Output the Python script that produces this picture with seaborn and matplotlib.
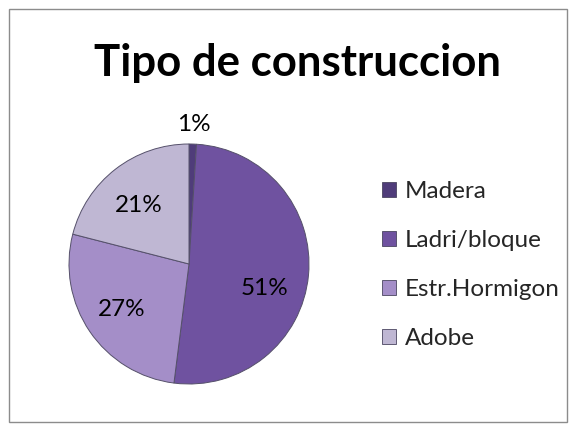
import numpy as np
import matplotlib
matplotlib.use("Agg")
import matplotlib.pyplot as plt
import seaborn as sns
from matplotlib.patches import Rectangle, Patch

# ================= 数据 =================
categories = ["Madera", "Ladri/bloque", "Estr.Hormigon", "Adobe"]
values = [1, 51, 27, 21]
pct_labels = ["1%", "51%", "27%", "21%"]
colors = ["#4f3c7a", "#6f52a0", "#a48ec8", "#bfb7d3"]
title = "Tipo de construccion"
# ========================================

sns.set_theme(style="white")
plt.rcParams['font.family'] = ['Lato', 'DejaVu Sans']

W, H = 569, 424
fig = plt.figure(figsize=(W / 100, H / 100), dpi=100)
fig.patch.set_facecolor("white")

# borde del gráfico (en píxeles)
fig.add_artist(Rectangle((9 / W, 2 / H), 558 / W, 413 / H, transform=fig.transFigure,
                         fill=False, edgecolor="#8c8c8c", linewidth=1.0))

# pastel: centro (189, 264) px, radio 120 px
ax = fig.add_axes([69 / W, (H - 264 - 120) / H, 240 / W, 240 / H])
wedges, _ = ax.pie(values, colors=colors, startangle=90, counterclock=False,
                   wedgeprops=dict(edgecolor="#55506a", linewidth=0.7))
ax.set_xlim(-1, 1)
ax.set_ylim(-1, 1)
ax.set_aspect("equal")

# ajuste fino de etiquetas (en puntos), como las coloca Excel
nudge = {"51%": (-4, -12), "21%": (0, -4)}
for w, lab, v in zip(wedges, pct_labels, values):
    ang = np.deg2rad((w.theta1 + w.theta2) / 2)
    r = 1.16 if v < 5 else 0.68
    ax.annotate(lab, (r * np.cos(ang), r * np.sin(ang)), xytext=nudge.get(lab, (0, 0)),
                textcoords="offset points", ha="center", va="center",
                fontsize=17.5, color="black", annotation_clip=False)

fig.text(297 / W, (H - 76) / H, title, ha="center", va="baseline",
         fontsize=31.5, fontweight="bold", color="black")

handles = [Patch(facecolor=c, edgecolor="#4a4560", linewidth=0.6) for c in colors]
fig.legend(handles, categories, loc="upper left", bbox_to_anchor=(382 / W, (H - 181) / H),
           frameon=False, fontsize=17.5, handlelength=0.58, handleheight=0.58,
           handletextpad=0.35, labelspacing=1.15, borderpad=0, borderaxespad=0)

fig.savefig("out.png", dpi=100)
